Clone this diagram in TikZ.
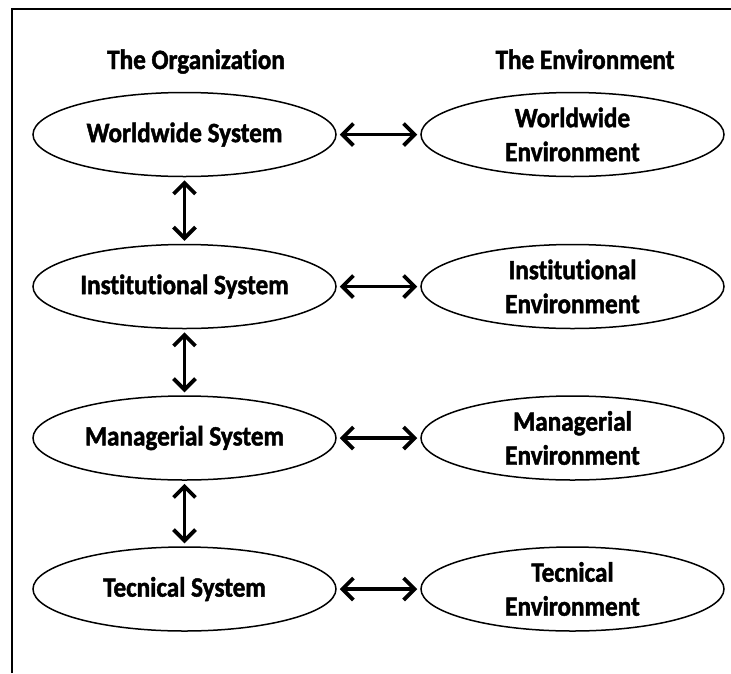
\documentclass[tikz,border=0pt]{standalone}
\usepackage{fontspec}
\setmainfont{Carlito}[Ligatures=NoCommon, BoldFeatures={FakeStretch=0.9, FakeBold=1.6}]
\usetikzlibrary{arrows.meta,shapes.geometric}
\begin{document}
\begin{tikzpicture}[x=1pt,y=-1pt,
  ell/.style={draw, line width=1.5pt, ellipse, minimum width=303pt, minimum height=84pt, inner sep=0pt},
  lbl/.style={font=\bfseries\fontsize{28}{34}\selectfont, align=center, inner sep=0pt},
  ttl/.style={font=\bfseries\fontsize{28}{34}\selectfont, inner sep=0pt, anchor=base},
  dbl/.style={line width=3.8pt, {Straight Barb[length=11pt,width=22pt]}-{Straight Barb[length=11pt,width=22pt]}, shorten <=3pt, shorten >=3pt},
  frame/.style={line width=2pt}
]
\useasboundingbox (0,0) rectangle (731,673);
\draw[frame] (12,673) -- (12,9) -- (731,9);

\node[ttl] (t1) at (196,69) {The Organization};
\node[ttl] (t2) at (585,69) {The Environment};

\node[ell] (ws) at (184.5,134.5) {};
\node[ell] (is) at (184.5,286.5) {};
\node[ell] (ms) at (184.5,438) {};
\node[ell] (ts) at (184.5,589) {};
\node[ell] (we) at (572.5,134.5) {};
\node[ell] (ie) at (572.5,286.5) {};
\node[ell] (me) at (572.5,438) {};
\node[ell] (te) at (572.5,589) {};

\node[lbl] (wsl) at (ws.center) {Worldwide System};
\node[lbl] (isl) at (is.center) {Institutional System};
\node[lbl] (msl) at (ms.center) {Managerial System};
\node[lbl] (tsl) at (ts.center) {Tecnical System};
\node[lbl] (wel) at (we.center) {Worldwide\\Environment};
\node[lbl] (iel) at (ie.center) {Institutional\\Environment};
\node[lbl] (mel) at (me.center) {Managerial\\Environment};
\node[lbl] (tel) at (te.center) {Tecnical\\Environment};

\draw[dbl] (ws.east) -- (we.west);
\draw[dbl] (is.east) -- (ie.west);
\draw[dbl] (ms.east) -- (me.west);
\draw[dbl] (ts.east) -- (te.west);
\draw[dbl] (ws.south) -- (is.north);
\draw[dbl] (is.south) -- (ms.north);
\draw[dbl] (ms.south) -- (ts.north);
\end{tikzpicture}
\end{document}
